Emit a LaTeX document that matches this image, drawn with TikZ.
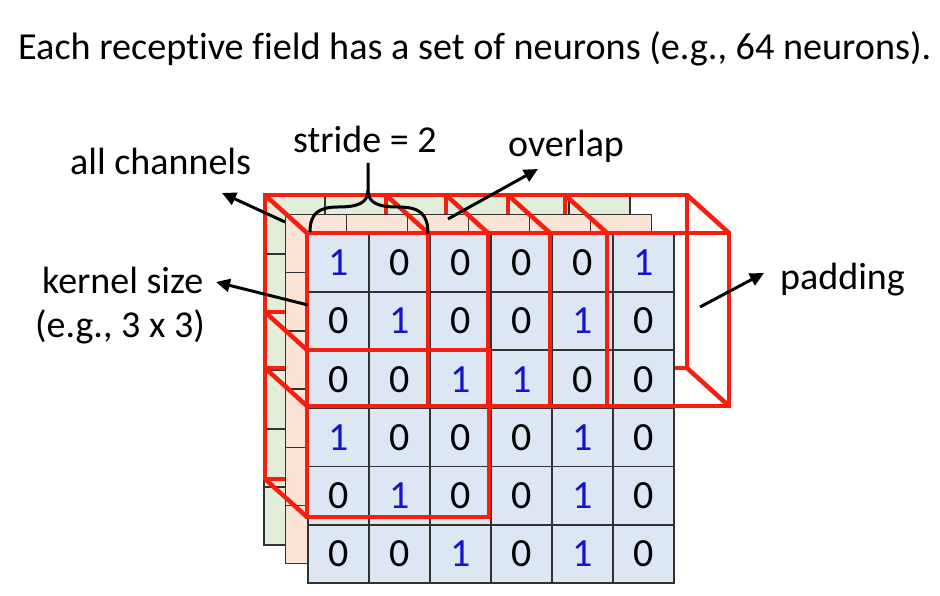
\documentclass[tikz,border=0pt]{standalone}
\usepackage{fontspec}
\setmainfont{Carlito}[Ligatures=NoCommon]
\usetikzlibrary{arrows.meta}
\definecolor{cellblue}{RGB}{221,231,243}
\definecolor{cellsalmon}{RGB}{251,228,214}
\definecolor{cellgreen}{RGB}{226,238,218}
\definecolor{boxred}{RGB}{245,30,15}
\definecolor{digblue}{RGB}{20,20,200}
\definecolor{gridgray}{RGB}{50,50,50}
\begin{document}
\begin{tikzpicture}[x=1pt,y=-1pt,
  cell/.style={draw=gridgray, line width=1.5pt, fill=cellblue, minimum width=61pt, minimum height=58.2pt, inner sep=0pt, anchor=north west, font=\fontsize{40}{40}\selectfont},
  dig1/.style={text=digblue},
  dig0/.style={text=black},
  layercell/.style={draw=gridgray, line width=1.5pt},
  redline/.style={draw=boxred, line width=4.5pt, line join=miter},
  arr/.style={draw=black, line width=3pt, -{Triangle[length=14pt,width=13pt]}},
  bracestyle/.style={draw=black, line width=3pt},
  lbl/.style={anchor=base west, inner sep=0pt, font=\fontsize{38}{38}\selectfont},
  ttl/.style={anchor=base west, inner sep=0pt, font=\fontsize{38.2}{38.2}\selectfont}]
\useasboundingbox (0,0) rectangle (940,596);
\fill[white] (0,0) rectangle (940,596);

% back (green) layer
\foreach \r in {0,...,5} \foreach \c in {0,...,5}
  \draw[layercell, fill=cellgreen] ({264+61*\c},{196+58.2*\r}) rectangle ++(61,58.2);

% back faces of receptive fields
\draw[redline] (265,195) rectangle (446,368);
\draw[redline] (386,195) rectangle (565,368);
\draw[redline] (508,195) rectangle (687,368);
\draw[redline] (265,312) rectangle (447,479);

% middle (salmon) layer
\foreach \r in {0,...,5} \foreach \c in {0,...,5}
  \draw[layercell, fill=cellsalmon] ({285.5+61*\c},{214.5+58.2*\r}) rectangle ++(61,58.2);

% depth edges
\foreach \x/\y/\w/\h in {307/233/181/173, 428/233/179/173, 550/233/179/173, 307/350/182/167} {
  \draw[redline] (\x-42,\y-38) -- (\x,\y);
  \draw[redline] (\x+\w-42,\y-38) -- (\x+\w,\y);
  \draw[redline] (\x-42,\y+\h-38) -- (\x,\y+\h);
  \draw[redline] (\x+\w-42,\y+\h-38) -- (\x+\w,\y+\h);
}

% front (blue) layer
\foreach \rowvals [count=\r from 0] in {{1,0,0,0,0,1},{0,1,0,0,1,0},{0,0,1,1,0,0},{1,0,0,0,1,0},{0,1,0,0,1,0},{0,0,1,0,1,0}} {
  \foreach \v [count=\c from 0] in \rowvals {
    \node[cell, dig\v] (c\r\c) at ({307+61*\c},{233+58.2*\r}) {\v};
  }
}

% front faces of receptive fields
\draw[redline] (307,233) rectangle (488,406);
\draw[redline] (428,233) rectangle (607,406);
\draw[redline] (550,233) rectangle (729,406);
\draw[redline] (307,350) rectangle (489,517);

% labels
\node[ttl] (title) at (18,60) {Each receptive field has a set of neurons (e.g., 64 neurons).};
\node[lbl] (allch) at (70,175) {all channels};
\node[lbl] (stride) at (293,153) {stride = 2};
\node[lbl] (overlap) at (508,157) {overlap};
\node[lbl] (kernel) at (42,293) {kernel size};
\node[lbl] (kernelex) at (35,337) {(e.g., 3 x 3)};
\node[lbl] (padding) at (780,289) {padding};

% arrows
\coordinate (acTail) at (285,222);  \coordinate (acHead) at (222,193);
\coordinate (ovTail) at (448,219);  \coordinate (ovHead) at (538,169);
\coordinate (ksTail) at (308,305);  \coordinate (ksHead) at (216,282);
\coordinate (pdTail) at (700,307);  \coordinate (pdHead) at (764,273);
\draw[arr] (acTail) -- (acHead);
\draw[arr] (ovTail) -- (ovHead);
\draw[arr] (ksTail) -- (ksHead);
\draw[arr] (pdTail) -- (pdHead);

% stride brace
\coordinate (brL) at (310,232);
\coordinate (brR) at (428,234);
\coordinate (brTip) at (368,163);
\draw[bracestyle] (brL) .. controls (310,214) and (318,207) .. (338,207) .. controls (358,207) and (368,203) .. (368,190) -- (brTip);
\draw[bracestyle] (brR) .. controls (428,214) and (420,207) .. (398,207) .. controls (378,207) and (368,203) .. (368,190);
\end{tikzpicture}
\end{document}
